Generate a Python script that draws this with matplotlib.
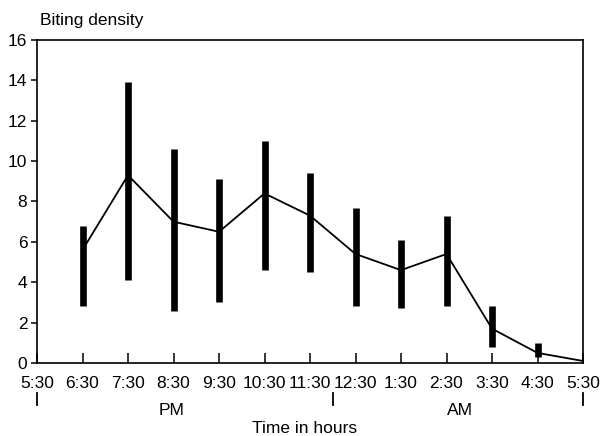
import matplotlib.pyplot as plt
import numpy as np

plt.rcParams['font.family'] = ['Liberation Sans', 'DejaVu Sans']

# hours after 5:30 PM
tick_labels = ['5:30', '6:30', '7:30', '8:30', '9:30', '10:30', '11:30',
               '12:30', '1:30', '2:30', '3:30', '4:30', '5:30']
hours = [1, 2, 3, 4, 5, 6, 7, 8, 9, 10, 11, 12]
mean_density = [5.6, 9.3, 7.0, 6.5, 8.4, 7.3, 5.4, 4.6, 5.4, 1.7, 0.5, 0.1]
bar_low = [2.8, 4.1, 2.6, 3.0, 4.6, 4.5, 2.8, 2.7, 2.8, 0.8, 0.3]
bar_high = [6.8, 13.9, 10.6, 9.1, 11.0, 9.4, 7.7, 6.1, 7.3, 2.8, 1.0]

fig = plt.figure(figsize=(6.06, 4.36), dpi=100)
ax = fig.add_axes([37/606, 1-363/436, 546/606, 323/436])

ax.plot(hours, mean_density, color='black', lw=1.3)
ax.vlines(hours[:len(bar_low)], bar_low, bar_high, color='black', lw=4.8)

ax.set_xlim(0, 12)
ax.set_ylim(0, 16)
ax.set_xticks(np.arange(13))
ax.set_xticklabels(tick_labels, fontsize=12.5)
ax.set_yticks(np.arange(0, 17, 2))
ax.tick_params(axis='y', direction='out', length=4, width=1.1, labelsize=12.5, pad=3)
ax.tick_params(axis='x', direction='in', length=7, width=1.1, pad=9)
for s in ax.spines.values():
    s.set_linewidth(1.2)

# PM / AM separators below the tick labels (5:30 PM, midnight, 5:30 AM)
for xm in [0, 6.5, 12]:
    xf = (37 + xm * 45.5) / 606
    fig.add_artist(plt.Line2D([xf, xf], [1-405/436, 1-393/436], color='black', lw=1.3))

fig.text((37 + 2.95*45.5)/606, 1-410/436, 'PM', ha='center', va='center', fontsize=12.5)
fig.text((37 + 9.3*45.5)/606, 1-410/436, 'AM', ha='center', va='center', fontsize=12.5)
fig.text(305/606, 1-428/436, 'Time in hours', ha='center', va='center', fontsize=12.5)
fig.text(40/606, 1-20/436, 'Biting density', ha='left', va='center', fontsize=12.5)

plt.savefig('out.png', dpi=100)
